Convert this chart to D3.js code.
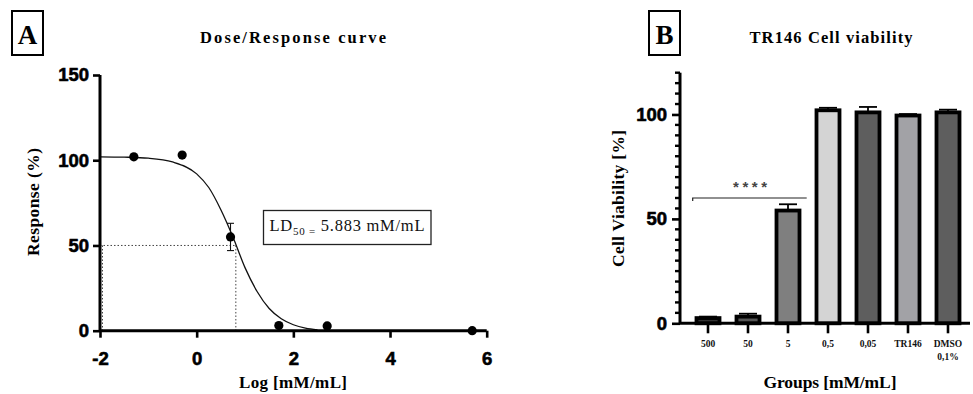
<!DOCTYPE html>
<html>
<head>
<meta charset="utf-8">
<script src="https://cdn.jsdelivr.net/npm/d3@7"></script>
<style>
  html, body { margin: 0; padding: 0; background: #fff; }
  svg { display: block; }
</style>
</head>
<body>
<svg id="chart" width="973" height="394"></svg>
<script>
// ---------- Panel A data ----------
const doseLogX = [-1.3, -0.3, 0.7, 1.7, 2.7, 5.7];
const doseResp = [102, 103, 55, 3, 2.8, 0];
const doseErr  = [0, 0, 8, 0, 0, 0];
// fitted curve
const curveX = [-2, -1.5, -1, -0.5, 0, 0.25, 0.5, 0.75, 1.0, 1.25, 1.5, 1.75, 2.0, 2.25, 2.5];
const curveY = [102, 101.8, 101.2, 99, 92, 84, 71, 55, 37, 23, 13, 7, 3.5, 1.5, 0.5];
const ld50Log = 0.81;
const ld50Resp = 50;
const ticksAX = [-2, 0, 2, 4, 6];
const ticksAY = [0, 50, 100, 150];

// ---------- Panel B data ----------
const groups = ["500", "50", "5", "0,5", "0,05", "TR146", "DMSO"];
const groupLabels2 = ["", "", "", "", "", "", "0,1%"];
const viability = [2.5, 3.2, 54, 102, 101, 99.5, 101];
const viabErr   = [0.7, 1.4, 3, 1.2, 2.6, 0.7, 1.3];
const barFills  = ["#333333", "#555555", "#7f7f7f", "#d4d4d4", "#5e5e5e", "#a2a2a6", "#5e5e5e"];
const ticksBY = [0, 50, 100];
const minorBY = d3.range(0, 121, 5);

const svg = d3.select("#chart");
const SERIF = "Liberation Serif, Times New Roman, serif";
const SANS = "Liberation Sans, Arial, sans-serif";
const fmt = d => String(d);

// ======================= PANEL A =======================
const xA = d3.scaleLinear().domain([-2, 6]).range([100, 486.7]);
const yA = d3.scaleLinear().domain([0, 150]).range([330.7, 75]);
const gA = svg.append("g");

// panel letter
gA.append("rect").attr("x", 12).attr("y", 11).attr("width", 31).attr("height", 44)
  .attr("fill", "none").attr("stroke", "#000").attr("stroke-width", 2);
gA.append("text").attr("x", 27.5).attr("y", 43.5).attr("text-anchor", "middle")
  .style("font-family", SERIF).style("font-weight", "bold").style("font-size", "27px").text("A");

// title
gA.append("text").attr("x", 293).attr("y", 43).attr("text-anchor", "middle")
  .style("font-family", SERIF).style("font-weight", "bold").style("font-size", "16.5px")
  .attr("textLength", 186).attr("lengthAdjust", "spacing").text("Dose/Response curve");

// dotted guides
gA.append("line").attr("x1", xA(-2)).attr("x2", xA(ld50Log)).attr("y1", yA(ld50Resp)).attr("y2", yA(ld50Resp))
  .attr("stroke", "#444").attr("stroke-width", 1).attr("stroke-dasharray", "1.5,2");
gA.append("line").attr("x1", xA(ld50Log)).attr("x2", xA(ld50Log)).attr("y1", yA(ld50Resp)).attr("y2", yA(0))
  .attr("stroke", "#444").attr("stroke-width", 1).attr("stroke-dasharray", "1.5,2");
gA.append("line").attr("x1", xA(-2) + 2.5).attr("x2", xA(-2) + 2.5).attr("y1", yA(ld50Resp)).attr("y2", yA(0))
  .attr("stroke", "#444").attr("stroke-width", 1).attr("stroke-dasharray", "1.5,2");

// curve
const lineA = d3.line().x((d, i) => xA(curveX[i])).y((d, i) => yA(curveY[i])).curve(d3.curveMonotoneX);
gA.append("path").datum(curveX).attr("d", lineA).attr("fill", "none")
  .attr("stroke", "#111").attr("stroke-width", 1.3);

// axes
const axA_y = d3.axisLeft(yA).tickValues(ticksAY).tickFormat(fmt).tickSize(7).tickSizeOuter(0).tickPadding(4);
const gAy = gA.append("g").attr("transform", `translate(${xA(-2)},0)`).call(axA_y);
const axA_x = d3.axisBottom(xA).tickValues(ticksAX).tickFormat(fmt).tickSize(7).tickSizeOuter(0).tickPadding(14);
const gAx = gA.append("g").attr("transform", `translate(0,${yA(0)})`).call(axA_x);
function styleTickText(sel) {
  sel.attr("fill", "#000").style("font-family", SANS).style("font-weight", "bold")
    .style("font-size", "18.5px").attr("stroke", "#000").attr("stroke-width", 0.6);
}
[gAy, gAx].forEach(g => {
  g.select(".domain").attr("stroke", "#000").attr("stroke-width", 3);
  g.selectAll(".tick line").attr("stroke", "#000").attr("stroke-width", 2.6);
  styleTickText(g.selectAll(".tick text"));
});
gAy.select(".domain").attr("d", `M0,${yA(150)}V${yA(0)}`);
gAx.select(".domain").attr("d", `M${xA(-2)},0H${xA(6)}`);

// error bars
doseLogX.forEach((x, i) => {
  if (doseErr[i] > 0) {
    const cx = xA(x);
    const e = gA.append("g").attr("stroke", "#111").attr("stroke-width", 1.1);
    e.append("line").attr("x1", cx).attr("x2", cx).attr("y1", yA(doseResp[i] - doseErr[i])).attr("y2", yA(doseResp[i] + doseErr[i]));
    e.append("line").attr("x1", cx - 3.5).attr("x2", cx + 3.5).attr("y1", yA(doseResp[i] + doseErr[i])).attr("y2", yA(doseResp[i] + doseErr[i]));
    e.append("line").attr("x1", cx - 3.5).attr("x2", cx + 3.5).attr("y1", yA(doseResp[i] - doseErr[i])).attr("y2", yA(doseResp[i] - doseErr[i]));
  }
});
// points
gA.selectAll("circle.pt").data(doseLogX).join("circle").attr("class", "pt")
  .attr("cx", d => xA(d)).attr("cy", (d, i) => yA(doseResp[i])).attr("r", 4.6).attr("fill", "#000");

// axis titles
gA.append("text").attr("transform", "translate(38.5,202) rotate(-90)").attr("text-anchor", "middle")
  .style("font-family", SERIF).style("font-weight", "bold").style("font-size", "17.5px")
  .attr("textLength", 108).attr("lengthAdjust", "spacing").text("Response (%)");
gA.append("text").attr("x", 293).attr("y", 388).attr("text-anchor", "middle")
  .style("font-family", SERIF).style("font-weight", "bold").style("font-size", "17px")
  .attr("textLength", 108).attr("lengthAdjust", "spacing").text("Log [mM/mL]");

// LD50 box
gA.append("rect").attr("x", 263.5).attr("y", 210.5).attr("width", 167.5).attr("height", 34)
  .attr("fill", "#fff").attr("stroke", "#222").attr("stroke-width", 1.3);
const ldText = gA.append("text").attr("x", 269.5).attr("y", 231).style("font-family", SERIF)
  .style("font-size", "16.5px").attr("fill", "#111").attr("textLength", 155).attr("lengthAdjust", "spacing");
ldText.append("tspan").text("LD");
ldText.append("tspan").style("font-size", "11px").attr("dy", 4).text("50 =");
ldText.append("tspan").attr("dy", -4).text(" 5.883 mM/mL");

// ======================= PANEL B =======================
const xB = d3.scaleBand().domain(groups).range([688, 968]).paddingInner(0).paddingOuter(0);
const yB = d3.scaleLinear().domain([0, 120]).range([323.3, 72.7]);
const gB = svg.append("g");

gB.append("rect").attr("x", 649).attr("y", 11).attr("width", 31).attr("height", 44)
  .attr("fill", "none").attr("stroke", "#000").attr("stroke-width", 2);
gB.append("text").attr("x", 664.5).attr("y", 43.5).attr("text-anchor", "middle")
  .style("font-family", SERIF).style("font-weight", "bold").style("font-size", "27px").text("B");

gB.append("text").attr("x", 831).attr("y", 43).attr("text-anchor", "middle")
  .style("font-family", SERIF).style("font-weight", "bold").style("font-size", "16.5px")
  .attr("textLength", 163).attr("lengthAdjust", "spacing").text("TR146 Cell viability");

const barW = 23;
const cxB = g => xB(g) + xB.bandwidth() / 2;

// error bars (upper only)
groups.forEach((g, i) => {
  const cx = cxB(g);
  const top = yB(viability[i] + viabErr[i]);
  const e = gB.append("g").attr("stroke", "#000").attr("stroke-width", 1.8);
  e.append("line").attr("x1", cx).attr("x2", cx).attr("y1", yB(viability[i])).attr("y2", top);
  e.append("line").attr("x1", cx - 9).attr("x2", cx + 9).attr("y1", top).attr("y2", top);
});

// bars
gB.selectAll("rect.bar").data(groups).join("rect").attr("class", "bar")
  .attr("x", d => cxB(d) - barW / 2).attr("width", barW)
  .attr("y", (d, i) => yB(viability[i])).attr("height", (d, i) => yB(0) - yB(viability[i]))
  .attr("fill", (d, i) => barFills[i]).attr("stroke", "#000").attr("stroke-width", 3.8);

// axes
const axB_y = d3.axisLeft(yB).tickValues(ticksBY).tickFormat(fmt).tickSize(8).tickSizeOuter(0).tickPadding(5);
const gBy = gB.append("g").attr("transform", `translate(680,0)`).call(axB_y);
gBy.selectAll(".minor").data(minorBY.filter(v => !ticksBY.includes(v))).join("line").attr("class", "minor")
  .attr("x1", -5).attr("x2", 0).attr("y1", d => yB(d)).attr("y2", d => yB(d))
  .attr("stroke", "#000").attr("stroke-width", 2.4);
gBy.select(".domain").attr("stroke", "#000").attr("stroke-width", 3).attr("d", `M0,${yB(120)}V${yB(0)}`);
gBy.selectAll(".tick line").attr("stroke", "#000").attr("stroke-width", 2.6);
styleTickText(gBy.selectAll(".tick text"));

const axB_x = d3.axisBottom(xB).tickSize(10).tickSizeOuter(0).tickFormat("");
const gBx = gB.append("g").attr("transform", `translate(0,${yB(0)})`).call(axB_x);
gBx.select(".domain").attr("stroke", "#000").attr("stroke-width", 3).attr("d", `M680,0H970`);
gBx.selectAll(".tick line").attr("stroke", "#000").attr("stroke-width", 2.6);

// group labels
groups.forEach((g, i) => {
  gB.append("text").attr("x", cxB(g)).attr("y", 347).attr("text-anchor", "middle")
    .style("font-family", SERIF).style("font-weight", "bold").style("font-size", "9.5px").attr("fill", "#111").text(g);
  if (groupLabels2[i]) {
    gB.append("text").attr("x", cxB(g)).attr("y", 360).attr("text-anchor", "middle")
      .style("font-family", SERIF).style("font-weight", "bold").style("font-size", "9.5px").attr("fill", "#111").text(groupLabels2[i]);
  }
});

// significance bracket
const bracketY = yB(60);
gB.append("path").attr("d", `M692.7,${bracketY + 3}V${bracketY}H806.7`).attr("fill", "none")
  .attr("stroke", "#222").attr("stroke-width", 1.2);
gB.append("text").attr("x", 750).attr("y", 192).attr("text-anchor", "middle")
  .style("font-family", SANS).style("font-size", "15px").style("font-weight", "bold").attr("fill", "#444")
  .attr("textLength", 34).attr("lengthAdjust", "spacing").text("****");

// axis titles
gB.append("text").attr("transform", "translate(623.5,198.5) rotate(-90)").attr("text-anchor", "middle")
  .style("font-family", SERIF).style("font-weight", "bold").style("font-size", "17.5px")
  .attr("textLength", 137).attr("lengthAdjust", "spacing").text("Cell Viability [%]");
gB.append("text").attr("x", 830).attr("y", 388).attr("text-anchor", "middle")
  .style("font-family", SERIF).style("font-weight", "bold").style("font-size", "17.5px")
  .attr("textLength", 133).attr("lengthAdjust", "spacing").text("Groups [mM/mL]");
</script>
</body>
</html>
